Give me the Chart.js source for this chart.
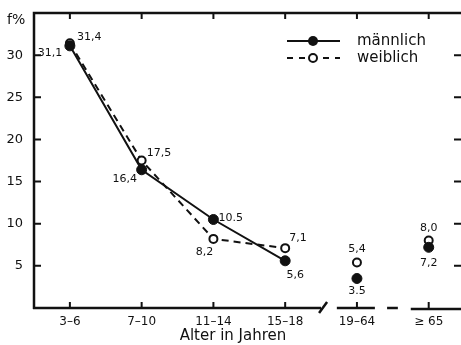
<!DOCTYPE html>
<html><head><meta charset="utf-8">
<script src="https://cdn.jsdelivr.net/npm/chart.js@4.4.0/dist/chart.umd.min.js"></script>
<style>html,body{margin:0;padding:0;background:#fff}#wrap{width:461px;height:345px;position:relative}</style>
</head><body><div id="wrap"><canvas id="c"></canvas></div>
<script>
const categories = ["3–6", "7–10", "11–14", "15–18", "19–64", "≥ 65"];
const maleValues = [31.1, 16.4, 10.5, 5.6, 3.5, 7.2];
const femaleValues = [31.4, 17.5, 8.2, 7.1, 5.4, 8.0];
const maleLabels = ["31,1", "16,4", "10.5", "5,6", "3.5", "7,2"];
const femaleLabels = ["31,4", "17,5", "8,2", "7,1", "5,4", "8,0"];
const yTicks = [5, 10, 15, 20, 25, 30];
const seriesNames = ["männlich", "weiblich"];
const axisTitle = "Alter in Jahren";
const yUnit = "f%";
const connectedCount = 4;

const INK = '#111';
const FONT = '"DejaVu Sans", sans-serif';

// label offsets (style, not data)
const maleOff = [[-20,7,'center'],[-17,9,'center'],[5,-1,'left'],[10,14,'center'],[0,13,'center'],[0,16,'center']];
const femOff = [[7,-6,'left'],[5,-7,'left'],[-9,13,'center'],[4,-10,'left'],[0,-13,'center'],[0,-12,'center']];

const zeroPad = s => { s.paddingLeft = 0; s.paddingRight = 0; s.paddingTop = 0; s.paddingBottom = 0; };

const decor = {
  id: 'decor',
  afterDraw(chart) {
    const ctx = chart.ctx, a = chart.chartArea;
    const xs = chart.scales.x, ys = chart.scales.y;
    ctx.save();
    ctx.strokeStyle = INK; ctx.fillStyle = INK; ctx.lineWidth = 2.5; ctx.lineCap = 'butt';
    // frame: left, top
    ctx.beginPath();
    ctx.moveTo(a.left, a.bottom + 1); ctx.lineTo(a.left, a.top); ctx.lineTo(a.right + 2, a.top);
    ctx.stroke();
    // bottom broken axis
    const px = v => xs.getPixelForValue(v);
    const yb = a.bottom;
    ctx.beginPath();
    ctx.moveTo(a.left - 1, yb); ctx.lineTo(px(4.5), yb);
    ctx.moveTo(px(4.5) - 2, yb + 5); ctx.lineTo(px(4.5) + 6, yb - 6);
    ctx.moveTo(px(4.72), yb); ctx.lineTo(px(5.25), yb);
    ctx.moveTo(px(5.42), yb); ctx.lineTo(px(5.57), yb);
    ctx.moveTo(px(5.75), yb + 1); ctx.lineTo(a.right + 2, yb + 1);
    ctx.stroke();
    // inner ticks
    ctx.lineWidth = 2;
    ctx.beginPath();
    yTicks.forEach(v => {
      const y = ys.getPixelForValue(v);
      ctx.moveTo(a.left, y); ctx.lineTo(a.left + 7, y);
      ctx.moveTo(a.right, y); ctx.lineTo(a.right - 7, y);
    });
    categories.forEach((c, i) => {
      const x = xs.getPixelForValue(i + 1);
      ctx.moveTo(x, a.top); ctx.lineTo(x, a.top + 6);
      ctx.moveTo(x, a.bottom); ctx.lineTo(x, a.bottom - 6);
    });
    ctx.stroke();
    // unit label
    ctx.font = '14px ' + FONT; ctx.textAlign = 'left'; ctx.textBaseline = 'middle';
    ctx.fillText(yUnit, 7, 20);
    // axis title
    ctx.font = '15px ' + FONT; ctx.textAlign = 'center';
    ctx.fillText(axisTitle, 233, 336);
    // data labels
    ctx.font = '11px ' + FONT;
    const drawLabels = (di, labels, offs) => {
      const meta = chart.getDatasetMeta(di);
      meta.data.forEach((pt, i) => {
        const o = offs[i];
        ctx.textAlign = o[2];
        ctx.fillText(labels[i], pt.x + o[0], pt.y + o[1]);
      });
    };
    drawLabels(0, maleLabels, maleOff);
    drawLabels(1, femaleLabels, femOff);
    // legend
    const lx0 = 287, lx1 = 340, lm = 313, tx = 357;
    const ly = [41, 58];
    ctx.lineWidth = 2;
    ctx.beginPath(); ctx.moveTo(lx0, ly[0]); ctx.lineTo(lx1, ly[0]); ctx.stroke();
    ctx.beginPath(); ctx.arc(lm, ly[0], 5, 0, Math.PI * 2); ctx.fill();
    ctx.setLineDash([6, 6]);
    ctx.beginPath(); ctx.moveTo(lx0, ly[1]); ctx.lineTo(lx1, ly[1]); ctx.stroke();
    ctx.setLineDash([]);
    ctx.fillStyle = '#fff';
    ctx.beginPath(); ctx.arc(lm, ly[1], 4, 0, Math.PI * 2); ctx.fill(); ctx.stroke();
    ctx.fillStyle = INK;
    ctx.font = '15px ' + FONT; ctx.textAlign = 'left';
    ctx.fillText(seriesNames[0], tx, ly[0]);
    ctx.fillText(seriesNames[1], tx, ly[1]);
    ctx.restore();
  }
};

const hideAfter = ctx => ctx.p0DataIndex >= connectedCount - 1 ? 'rgba(0,0,0,0)' : undefined;

new Chart(document.getElementById('c'), {
  type: 'line',
  data: {
    datasets: [
      {
        label: seriesNames[0],
        data: maleValues.map((v, i) => ({x: i + 1, y: v})),
        borderColor: INK, borderWidth: 2,
        pointRadius: 5, pointBackgroundColor: INK, pointBorderColor: INK, pointBorderWidth: 1,
        segment: {borderColor: hideAfter},
        tension: 0, clip: false
      },
      {
        label: seriesNames[1],
        data: femaleValues.map((v, i) => ({x: i + 1, y: v})),
        borderColor: INK, borderWidth: 2, borderDash: [7, 5],
        pointRadius: 4, pointBackgroundColor: '#fff', pointBorderColor: INK, pointBorderWidth: 2,
        segment: {borderColor: hideAfter},
        tension: 0, clip: false
      }
    ]
  },
  options: {
    responsive: true, maintainAspectRatio: false, animation: false,
    layout: {autoPadding: false, padding: {left: 0, top: 13, right: 0, bottom: 0}},
    plugins: {legend: {display: false}, tooltip: {enabled: false}},
    scales: {
      x: {
        type: 'linear', min: 0.5, max: 6.45,
        afterFit: s => { s.height = 37; zeroPad(s); },
        afterBuildTicks: s => { s.ticks = categories.map((c, i) => ({value: i + 1})); },
        grid: {display: false, drawTicks: false},
        border: {display: false},
        ticks: {padding: 7, color: INK, font: {family: FONT, size: 12}, maxRotation: 0, autoSkip: false,
          callback: v => categories[v - 1]}
      },
      y: {
        min: 0, max: 35,
        afterFit: s => { s.width = 34; zeroPad(s); },
        afterBuildTicks: s => { s.ticks = yTicks.map(v => ({value: v})); },
        grid: {display: false, drawTicks: false},
        border: {display: false},
        ticks: {padding: 11, color: INK, font: {family: FONT, size: 13}}
      }
    }
  },
  plugins: [decor]
});
</script></body></html>
